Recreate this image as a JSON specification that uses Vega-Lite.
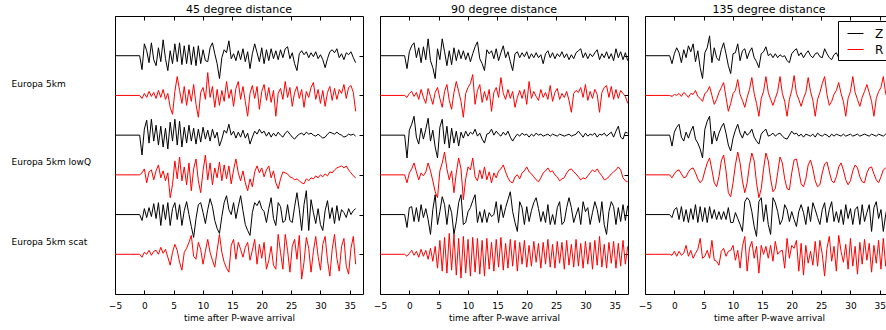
{
"$schema":"https://vega.github.io/schema/vega-lite/v6.json",
"padding":{"left":10,"top":3,"right":0,"bottom":0},
"config":{"font":"DejaVu Sans","view":{"stroke":"#000000","strokeWidth":1},"line":{"strokeWidth":1},"axis":{"labelFont":"DejaVu Sans","titleFont":"DejaVu Sans","tickColor":"#000000","labelColor":"#000000","titleColor":"#000000"},"title":{"font":"DejaVu Sans","fontSize":11,"fontWeight":"normal","color":"#000000","offset":1},"legend":{"orient":"top-right","offset":5,"symbolType":"stroke","symbolSize":256,"symbolStrokeWidth":1.2,"symbolOffset":5,"labelFontSize":12,"labelFont":"DejaVu Sans","labelColor":"#000000","strokeColor":"#000000","fillColor":"#ffffff","padding":4,"rowPadding":1,"labelOffset":11,"cornerRadius":0}},
"datasets":{
"p45":[
{"t":-5,"z1":0,"r1":0,"z2":0,"r2":0,"z3":0,"r3":0},
{"t":-0.8,"z1":0,"r1":0,"z2":0,"r2":0,"z3":0,"r3":0},
{"t":-0.4,"z1":-14,"r1":-3,"z2":-20,"r2":2,"z3":-6,"r3":-3},
{"t":0,"z1":12,"r1":2,"z2":6,"r2":6,"z3":6,"r3":2},
{"t":0.4,"z1":5,"r1":-2,"z2":15,"r2":-8,"z3":-3,"r3":0},
{"t":0.8,"z1":-7,"r1":4,"z2":-8,"r2":3,"z3":7,"r3":4},
{"t":1.2,"z1":13,"r1":-1,"z2":16,"r2":5,"z3":-2,"r3":-1},
{"t":1.6,"z1":-4,"r1":3,"z2":-6,"r2":-5,"z3":11,"r3":3},
{"t":2.0,"z1":-10,"r1":-3,"z2":10,"r2":4,"z3":-4,"r3":4},
{"t":2.4,"z1":8,"r1":5,"z2":-10,"r2":10,"z3":12,"r3":0},
{"t":2.8,"z1":-6,"r1":-2,"z2":9,"r2":-3,"z3":-11,"r3":7},
{"t":3.2,"z1":16,"r1":6,"z2":-12,"r2":4,"z3":10,"r3":1},
{"t":3.6,"z1":-3,"r1":-4,"z2":7,"r2":-6,"z3":-5,"r3":5},
{"t":4.0,"z1":-15,"r1":2,"z2":-14,"r2":2,"z3":12,"r3":-3},
{"t":4.4,"z1":5,"r1":-12,"z2":13,"r2":-23,"z3":-11,"r3":-11},
{"t":4.8,"z1":-8,"r1":-19,"z2":-6,"r2":-10,"z3":6,"r3":2},
{"t":5.2,"z1":12,"r1":4,"z2":16,"r2":14,"z3":12,"r3":10},
{"t":5.6,"z1":-6,"r1":19,"z2":-10,"r2":-4,"z3":-5,"r3":4},
{"t":6.0,"z1":13,"r1":5,"z2":14,"r2":18,"z3":10,"r3":-8},
{"t":6.4,"z1":-9,"r1":-8,"z2":-12,"r2":-6,"z3":-11,"r3":-16},
{"t":6.8,"z1":10,"r1":9,"z2":8,"r2":8,"z3":4,"r3":2},
{"t":7.2,"z1":-8,"r1":-10,"z2":-8,"r2":-10,"z3":13,"r3":6},
{"t":7.6,"z1":11,"r1":6,"z2":10,"r2":12,"z3":0,"r3":12},
{"t":8.0,"z1":-9,"r1":-6,"z2":-6,"r2":-16,"z3":-12,"r3":19},
{"t":8.4,"z1":9,"r1":11,"z2":7,"r2":6,"z3":-23,"r3":-2},
{"t":8.8,"z1":-10,"r1":-9,"z2":-9,"r2":16,"z3":-4,"r3":-5},
{"t":9.2,"z1":10,"r1":-22,"z2":6,"r2":-6,"z3":10,"r3":12},
{"t":9.6,"z1":-8,"r1":3,"z2":-7,"r2":-18,"z3":12,"r3":5},
{"t":10.0,"z1":6,"r1":8,"z2":8,"r2":4,"z3":2,"r3":-10},
{"t":10.4,"z1":-5,"r1":-4,"z2":-4,"r2":20,"z3":-9,"r3":3},
{"t":10.8,"z1":-6,"r1":23,"z2":5,"r2":-5,"z3":5,"r3":15},
{"t":11.2,"z1":8,"r1":-2,"z2":-6,"r2":12,"z3":16,"r3":2},
{"t":11.6,"z1":13,"r1":9,"z2":6,"r2":-10,"z3":8,"r3":-6},
{"t":12.0,"z1":2,"r1":-12,"z2":-3,"r2":7,"z3":-6,"r3":-13},
{"t":12.4,"z1":-8,"r1":6,"z2":3,"r2":-3,"z3":-14,"r3":4},
{"t":12.8,"z1":-23,"r1":-10,"z2":-11,"r2":13,"z3":-19,"r3":20},
{"t":13.2,"z1":-2,"r1":5,"z2":-4,"r2":-6,"z3":-2,"r3":2},
{"t":13.6,"z1":6,"r1":-6,"z2":5,"r2":10,"z3":12,"r3":-8},
{"t":14.0,"z1":3,"r1":14,"z2":2,"r2":-4,"z3":19,"r3":-14},
{"t":14.4,"z1":15,"r1":-3,"z2":11,"r2":9,"z3":5,"r3":-18},
{"t":14.8,"z1":-3,"r1":6,"z2":0,"r2":-9,"z3":0,"r3":9},
{"t":15.2,"z1":2,"r1":-11,"z2":4,"r2":5,"z3":12,"r3":15},
{"t":15.6,"z1":-5,"r1":7,"z2":-3,"r2":16,"z3":-4,"r3":-5},
{"t":16.0,"z1":5,"r1":14,"z2":3,"r2":2,"z3":8,"r3":12},
{"t":16.4,"z1":-4,"r1":-4,"z2":-2,"r2":-6,"z3":19,"r3":5},
{"t":16.8,"z1":7,"r1":9,"z2":5,"r2":4,"z3":4,"r3":-3},
{"t":17.2,"z1":-6,"r1":-6,"z2":-3,"r2":-8,"z3":-10,"r3":7},
{"t":17.6,"z1":4,"r1":-21,"z2":2,"r2":-16,"z3":-16,"r3":12},
{"t":18.0,"z1":-13,"r1":2,"z2":-9,"r2":-4,"z3":-21,"r3":-6},
{"t":18.4,"z1":2,"r1":10,"z2":-2,"r2":-12,"z3":2,"r3":4},
{"t":18.8,"z1":12,"r1":-3,"z2":4,"r2":3,"z3":12,"r3":15},
{"t":19.2,"z1":3,"r1":9,"z2":1,"r2":9,"z3":9,"r3":-10},
{"t":19.6,"z1":-6,"r1":-14,"z2":6,"r2":2,"z3":14,"r3":10},
{"t":20.0,"z1":8,"r1":4,"z2":2,"r2":7,"z3":6,"r3":-4},
{"t":20.4,"z1":-8,"r1":11,"z2":4,"r2":-2,"z3":3,"r3":12},
{"t":20.8,"z1":6,"r1":-5,"z2":-1,"r2":5,"z3":-8,"r3":-15},
{"t":21.2,"z1":-5,"r1":8,"z2":3,"r2":9,"z3":6,"r3":-6},
{"t":21.6,"z1":7,"r1":-7,"z2":-2,"r2":-3,"z3":17,"r3":8},
{"t":22.0,"z1":-3,"r1":5,"z2":2,"r2":4,"z3":-4,"r3":-11},
{"t":22.4,"z1":5,"r1":-21,"z2":-1,"r2":-8,"z3":-11,"r3":-15},
{"t":22.8,"z1":-4,"r1":2,"z2":3,"r2":-14,"z3":12,"r3":20},
{"t":23.2,"z1":6,"r1":7,"z2":0,"r2":-4,"z3":8,"r3":2},
{"t":23.6,"z1":-2,"r1":-4,"z2":-2,"r2":3,"z3":-8,"r3":-15},
{"t":24.0,"z1":7,"r1":14,"z2":2,"r2":2,"z3":-6,"r3":20},
{"t":24.4,"z1":9,"r1":-2,"z2":4,"r2":1,"z3":10,"r3":4},
{"t":24.8,"z1":-3,"r1":8,"z2":1,"r2":-2,"z3":-6,"r3":-18},
{"t":25.2,"z1":3,"r1":-11,"z2":-2,"r2":-3,"z3":-8,"r3":8},
{"t":25.6,"z1":-8,"r1":3,"z2":-4,"r2":-5,"z3":8,"r3":15},
{"t":26.0,"z1":-15,"r1":9,"z2":-1,"r2":-4,"z3":22,"r3":-5},
{"t":26.4,"z1":2,"r1":-3,"z2":1,"r2":-6,"z3":5,"r3":19},
{"t":26.8,"z1":5,"r1":6,"z2":2,"r2":-8,"z3":-16,"r3":-25},
{"t":27.2,"z1":1,"r1":-12,"z2":0,"r2":-9,"z3":10,"r3":-8},
{"t":27.6,"z1":4,"r1":4,"z2":3,"r2":-4,"z3":24,"r3":17},
{"t":28.0,"z1":-2,"r1":-2,"z2":1,"r2":-6,"z3":-16,"r3":6},
{"t":28.4,"z1":3,"r1":8,"z2":2,"r2":-3,"z3":15,"r3":-18},
{"t":28.8,"z1":-1,"r1":13,"z2":0,"r2":-4,"z3":2,"r3":3},
{"t":29.2,"z1":4,"r1":-4,"z2":-1,"r2":-1,"z3":-9,"r3":18},
{"t":29.6,"z1":-3,"r1":6,"z2":1,"r2":-3,"z3":6,"r3":-2},
{"t":30.0,"z1":1,"r1":-8,"z2":-1,"r2":0,"z3":-10,"r3":-16},
{"t":30.4,"z1":-4,"r1":5,"z2":-3,"r2":-2,"z3":-16,"r3":10},
{"t":30.8,"z1":-12,"r1":-11,"z2":-2,"r2":1,"z3":4,"r3":18},
{"t":31.2,"z1":-3,"r1":3,"z2":1,"r2":-1,"z3":14,"r3":-6},
{"t":31.6,"z1":4,"r1":9,"z2":3,"r2":3,"z3":-4,"r3":-22},
{"t":32.0,"z1":6,"r1":-5,"z2":2,"r2":2,"z3":7,"r3":5},
{"t":32.4,"z1":3,"r1":7,"z2":1,"r2":5,"z3":-9,"r3":20},
{"t":32.8,"z1":7,"r1":-4,"z2":3,"r2":7,"z3":9,"r3":-4},
{"t":33.2,"z1":-2,"r1":6,"z2":1,"r2":8,"z3":-6,"r3":-17},
{"t":33.6,"z1":2,"r1":2,"z2":0,"r2":9,"z3":5,"r3":8},
{"t":34.0,"z1":-4,"r1":11,"z2":-2,"r2":7,"z3":2,"r3":16},
{"t":34.4,"z1":3,"r1":-3,"z2":-1,"r2":9,"z3":-3,"r3":-12},
{"t":34.8,"z1":1,"r1":8,"z2":1,"r2":5,"z3":6,"r3":-20},
{"t":35.2,"z1":4,"r1":10,"z2":0,"r2":2,"z3":0,"r3":6},
{"t":35.6,"z1":-2,"r1":3,"z2":1,"r2":-1,"z3":4,"r3":18},
{"t":36.0,"z1":-7,"r1":-16,"z2":-1,"r2":-3,"z3":6,"r3":-10}
],
"p90":[
{"t":-5,"z1":0,"r1":0,"z2":0,"r2":0,"z3":0,"r3":0},
{"t":-0.8,"z1":0,"r1":0,"z2":0,"r2":0,"z3":0,"r3":0},
{"t":-0.4,"z1":-13,"r1":-2,"z2":-23,"r2":-8,"z3":-13,"r3":-2},
{"t":0,"z1":4,"r1":2,"z2":5,"r2":2,"z3":7,"r3":1},
{"t":0.4,"z1":10,"r1":4,"z2":11,"r2":6,"z3":8,"r3":4},
{"t":0.8,"z1":13,"r1":-1,"z2":19,"r2":12,"z3":-7,"r3":-1},
{"t":1.2,"z1":-2,"r1":3,"z2":-2,"r2":3,"z3":7,"r3":3},
{"t":1.6,"z1":8,"r1":-4,"z2":-9,"r2":-5,"z3":-7,"r3":-3},
{"t":2.0,"z1":-7,"r1":6,"z2":7,"r2":2,"z3":10,"r3":5},
{"t":2.4,"z1":9,"r1":-2,"z2":-4,"r2":-1,"z3":-3,"r3":-2},
{"t":2.8,"z1":-4,"r1":-8,"z2":6,"r2":3,"z3":6,"r3":4},
{"t":3.2,"z1":17,"r1":7,"z2":17,"r2":12,"z3":-5,"r3":-5},
{"t":3.6,"z1":-5,"r1":-1,"z2":-6,"r2":4,"z3":-20,"r3":6},
{"t":4.0,"z1":-12,"r1":-9,"z2":5,"r2":-6,"z3":5,"r3":-7},
{"t":4.4,"z1":-23,"r1":3,"z2":-12,"r2":-17,"z3":20,"r3":8},
{"t":4.8,"z1":7,"r1":8,"z2":-23,"r2":-23,"z3":-10,"r3":-14},
{"t":5.2,"z1":-4,"r1":-3,"z2":8,"r2":4,"z3":3,"r3":14},
{"t":5.6,"z1":17,"r1":-12,"z2":16,"r2":12,"z3":18,"r3":-17},
{"t":6.0,"z1":4,"r1":4,"z2":-9,"r2":23,"z3":10,"r3":17},
{"t":6.4,"z1":-10,"r1":11,"z2":9,"r2":6,"z3":-10,"r3":-19},
{"t":6.8,"z1":5,"r1":-5,"z2":-13,"r2":-5,"z3":10,"r3":21},
{"t":7.2,"z1":-9,"r1":-14,"z2":7,"r2":4,"z3":2,"r3":-16},
{"t":7.6,"z1":8,"r1":3,"z2":-8,"r2":-18,"z3":-20,"r3":20},
{"t":8.0,"z1":-5,"r1":14,"z2":4,"r2":2,"z3":-7,"r3":-21},
{"t":8.4,"z1":6,"r1":4,"z2":-11,"r2":17,"z3":12,"r3":16},
{"t":8.8,"z1":-3,"r1":-6,"z2":3,"r2":6,"z3":20,"r3":-24},
{"t":9.2,"z1":5,"r1":-22,"z2":-3,"r2":-25,"z3":-10,"r3":18},
{"t":9.6,"z1":-4,"r1":2,"z2":4,"r2":-4,"z3":-8,"r3":-19},
{"t":10.0,"z1":3,"r1":8,"z2":-1,"r2":8,"z3":3,"r3":15},
{"t":10.4,"z1":-6,"r1":12,"z2":3,"r2":5,"z3":7,"r3":-22},
{"t":10.8,"z1":2,"r1":21,"z2":1,"r2":17,"z3":14,"r3":17},
{"t":11.2,"z1":9,"r1":-9,"z2":6,"r2":-2,"z3":20,"r3":-18},
{"t":11.6,"z1":14,"r1":5,"z2":-1,"r2":-6,"z3":-8,"r3":16},
{"t":12.0,"z1":-3,"r1":11,"z2":2,"r2":5,"z3":3,"r3":-20},
{"t":12.4,"z1":-8,"r1":-7,"z2":-4,"r2":-4,"z3":-8,"r3":14},
{"t":12.8,"z1":-15,"r1":4,"z2":-8,"r2":8,"z3":5,"r3":-22},
{"t":13.2,"z1":6,"r1":-5,"z2":1,"r2":-5,"z3":-8,"r3":16},
{"t":13.6,"z1":2,"r1":6,"z2":2,"r2":3,"z3":2,"r3":-15},
{"t":14.0,"z1":5,"r1":-16,"z2":6,"r2":-8,"z3":-2,"r3":12},
{"t":14.4,"z1":-3,"r1":3,"z2":0,"r2":2,"z3":0,"r3":-17},
{"t":14.8,"z1":7,"r1":8,"z2":4,"r2":-3,"z3":13,"r3":15},
{"t":15.2,"z1":-5,"r1":-2,"z2":1,"r2":4,"z3":-8,"r3":-13},
{"t":15.6,"z1":3,"r1":18,"z2":-1,"r2":6,"z3":10,"r3":17},
{"t":16.0,"z1":10,"r1":2,"z2":3,"r2":10,"z3":-3,"r3":-16},
{"t":16.4,"z1":-2,"r1":-4,"z2":0,"r2":3,"z3":7,"r3":11},
{"t":16.8,"z1":4,"r1":6,"z2":4,"r2":-3,"z3":15,"r3":-14},
{"t":17.2,"z1":-6,"r1":-3,"z2":-2,"r2":-7,"z3":23,"r3":15},
{"t":17.6,"z1":-15,"r1":4,"z2":-6,"r2":-8,"z3":3,"r3":-12},
{"t":18.0,"z1":2,"r1":-12,"z2":-2,"r2":-2,"z3":-8,"r3":14},
{"t":18.4,"z1":4,"r1":-2,"z2":1,"r2":0,"z3":-17,"r3":-17},
{"t":18.8,"z1":-2,"r1":5,"z2":-1,"r2":-4,"z3":13,"r3":12},
{"t":19.2,"z1":3,"r1":-3,"z2":2,"r2":2,"z3":7,"r3":-10},
{"t":19.6,"z1":-1,"r1":6,"z2":0,"r2":4,"z3":-10,"r3":14},
{"t":20.0,"z1":4,"r1":-9,"z2":1,"r2":8,"z3":8,"r3":-13},
{"t":20.4,"z1":-3,"r1":14,"z2":-2,"r2":3,"z3":-7,"r3":9},
{"t":20.8,"z1":2,"r1":-3,"z2":1,"r2":1,"z3":4,"r3":-12},
{"t":21.2,"z1":-2,"r1":4,"z2":-1,"r2":-2,"z3":12,"r3":13},
{"t":21.6,"z1":3,"r1":-1,"z2":2,"r2":-5,"z3":17,"r3":-8},
{"t":22.0,"z1":-2,"r1":-5,"z2":0,"r2":-7,"z3":6,"r3":11},
{"t":22.4,"z1":1,"r1":6,"z2":1,"r2":-3,"z3":-7,"r3":-14},
{"t":22.8,"z1":-8,"r1":-2,"z2":-1,"r2":2,"z3":3,"r3":12},
{"t":23.2,"z1":2,"r1":3,"z2":0,"r2":4,"z3":-8,"r3":-10},
{"t":23.6,"z1":5,"r1":-4,"z2":1,"r2":7,"z3":10,"r3":15},
{"t":24.0,"z1":-2,"r1":10,"z2":-1,"r2":3,"z3":-10,"r3":-13},
{"t":24.4,"z1":3,"r1":-6,"z2":1,"r2":4,"z3":0,"r3":10},
{"t":24.8,"z1":-3,"r1":3,"z2":0,"r2":0,"z3":-10,"r3":-14},
{"t":25.2,"z1":2,"r1":7,"z2":-1,"r2":-2,"z3":7,"r3":13},
{"t":25.6,"z1":-1,"r1":-4,"z2":1,"r2":-6,"z3":13,"r3":-9},
{"t":26.0,"z1":4,"r1":2,"z2":0,"r2":-4,"z3":-10,"r3":12},
{"t":26.4,"z1":-2,"r1":-2,"z2":-1,"r2":-3,"z3":-7,"r3":-15},
{"t":26.8,"z1":2,"r1":4,"z2":0,"r2":2,"z3":7,"r3":14},
{"t":27.2,"z1":-4,"r1":-5,"z2":1,"r2":5,"z3":17,"r3":-11},
{"t":27.6,"z1":1,"r1":-17,"z2":-1,"r2":6,"z3":7,"r3":10},
{"t":28.0,"z1":-3,"r1":2,"z2":0,"r2":3,"z3":-8,"r3":-13},
{"t":28.4,"z1":3,"r1":5,"z2":1,"r2":1,"z3":0,"r3":15},
{"t":28.8,"z1":5,"r1":3,"z2":4,"r2":-2,"z3":7,"r3":-12},
{"t":29.2,"z1":7,"r1":8,"z2":1,"r2":-5,"z3":-10,"r3":11},
{"t":29.6,"z1":-2,"r1":-2,"z2":-2,"r2":-3,"z3":13,"r3":-14},
{"t":30.0,"z1":3,"r1":11,"z2":2,"r2":-4,"z3":3,"r3":13},
{"t":30.4,"z1":-3,"r1":-5,"z2":-1,"r2":-1,"z3":7,"r3":-10},
{"t":30.8,"z1":2,"r1":4,"z2":1,"r2":2,"z3":-10,"r3":12},
{"t":31.2,"z1":-1,"r1":-3,"z2":0,"r2":5,"z3":2,"r3":-15},
{"t":31.6,"z1":3,"r1":6,"z2":2,"r2":3,"z3":13,"r3":14},
{"t":32.0,"z1":6,"r1":1,"z2":-2,"r2":6,"z3":5,"r3":-11},
{"t":32.4,"z1":-4,"r1":-17,"z2":1,"r2":2,"z3":-8,"r3":18},
{"t":32.8,"z1":2,"r1":3,"z2":0,"r2":-1,"z3":13,"r3":-13},
{"t":33.2,"z1":-2,"r1":8,"z2":2,"r2":-5,"z3":-10,"r3":10},
{"t":33.6,"z1":4,"r1":10,"z2":-1,"r2":-4,"z3":-20,"r3":-14},
{"t":34.0,"z1":-3,"r1":-2,"z2":1,"r2":-2,"z3":3,"r3":12},
{"t":34.4,"z1":2,"r1":9,"z2":3,"r2":1,"z3":13,"r3":-9},
{"t":34.8,"z1":-5,"r1":-4,"z2":-2,"r2":3,"z3":8,"r3":13},
{"t":35.2,"z1":7,"r1":6,"z2":4,"r2":5,"z3":-10,"r3":-14},
{"t":35.6,"z1":-2,"r1":-3,"z2":9,"r2":8,"z3":7,"r3":11},
{"t":36.0,"z1":4,"r1":5,"z2":-2,"r2":5,"z3":-7,"r3":-12},
{"t":36.4,"z1":-4,"r1":2,"z2":-4,"r2":-3,"z3":10,"r3":14},
{"t":36.8,"z1":3,"r1":-1,"z2":3,"r2":-6,"z3":-6,"r3":-10},
{"t":37.2,"z1":-5,"r1":-8,"z2":2,"r2":-7,"z3":9,"r3":8}
],
"p135":[
{"t":-5,"z1":0,"r1":0,"z2":0,"r2":0,"z3":0,"r3":0},
{"t":-0.8,"z1":0,"r1":0,"z2":0,"r2":0,"z3":0,"r3":0},
{"t":-0.4,"z1":-8,"r1":-1,"z2":-11,"r2":-3,"z3":-3,"r3":-1},
{"t":0,"z1":2,"r1":1,"z2":3,"r2":1,"z3":5,"r3":3},
{"t":0.4,"z1":8,"r1":0,"z2":8,"r2":4,"z3":7,"r3":-2},
{"t":0.8,"z1":3,"r1":2,"z2":11,"r2":5,"z3":-5,"r3":3},
{"t":1.2,"z1":-7,"r1":-1,"z2":-2,"r2":1,"z3":8,"r3":-1},
{"t":1.6,"z1":6,"r1":3,"z2":-6,"r2":-3,"z3":-7,"r3":1},
{"t":2.0,"z1":-2,"r1":1,"z2":3,"r2":-2,"z3":5,"r3":9},
{"t":2.4,"z1":10,"r1":-2,"z2":-3,"r2":3,"z3":-8,"r3":-2},
{"t":2.8,"z1":4,"r1":2,"z2":4,"r2":6,"z3":6,"r3":4},
{"t":3.2,"z1":12,"r1":1,"z2":9,"r2":7,"z3":-5,"r3":-4},
{"t":3.6,"z1":-6,"r1":5,"z2":-4,"r2":2,"z3":10,"r3":1},
{"t":4.0,"z1":5,"r1":-1,"z2":-8,"r2":-4,"z3":-8,"r3":5},
{"t":4.4,"z1":-12,"r1":-3,"z2":-14,"r2":-8,"z3":8,"r3":16},
{"t":4.8,"z1":-23,"r1":-6,"z2":-23,"r2":-5,"z3":-7,"r3":-4},
{"t":5.2,"z1":3,"r1":2,"z2":6,"r2":4,"z3":7,"r3":-2},
{"t":5.6,"z1":8,"r1":4,"z2":14,"r2":12,"z3":-8,"r3":4},
{"t":6.0,"z1":20,"r1":9,"z2":19,"r2":17,"z3":8,"r3":-4},
{"t":6.4,"z1":-7,"r1":0,"z2":-9,"r2":5,"z3":-4,"r3":14},
{"t":6.8,"z1":8,"r1":-9,"z2":4,"r2":-8,"z3":5,"r3":-6},
{"t":7.2,"z1":-2,"r1":-4,"z2":-6,"r2":-12,"z3":-5,"r3":-7},
{"t":7.6,"z1":-5,"r1":3,"z2":2,"r2":-2,"z3":3,"r3":-11},
{"t":8.0,"z1":6,"r1":8,"z2":8,"r2":14,"z3":-5,"r3":3},
{"t":8.4,"z1":13,"r1":13,"z2":12,"r2":20,"z3":3,"r3":6},
{"t":8.8,"z1":2,"r1":-2,"z2":2,"r2":4,"z3":-5,"r3":-2},
{"t":9.2,"z1":-10,"r1":-16,"z2":-10,"r2":-18,"z3":7,"r3":3},
{"t":9.6,"z1":-18,"r1":-8,"z2":-16,"r2":-22,"z3":-8,"r3":4},
{"t":10.0,"z1":2,"r1":2,"z2":-3,"r2":-8,"z3":-8,"r3":9},
{"t":10.4,"z1":3,"r1":5,"z2":5,"r2":10,"z3":2,"r3":-6},
{"t":10.8,"z1":12,"r1":16,"z2":11,"r2":23,"z3":-4,"r3":4},
{"t":11.2,"z1":-5,"r1":1,"z2":2,"r2":12,"z3":-10,"r3":-14},
{"t":11.6,"z1":5,"r1":-5,"z2":-3,"r2":-6,"z3":-17,"r3":8},
{"t":12.0,"z1":7,"r1":-12,"z2":4,"r2":-18,"z3":13,"r3":18},
{"t":12.4,"z1":-3,"r1":-2,"z2":0,"r2":-8,"z3":17,"r3":-17},
{"t":12.8,"z1":4,"r1":6,"z2":2,"r2":10,"z3":14,"r3":6},
{"t":13.2,"z1":8,"r1":18,"z2":6,"r2":22,"z3":3,"r3":13},
{"t":13.6,"z1":-2,"r1":2,"z2":-2,"r2":14,"z3":-12,"r3":-4},
{"t":14.0,"z1":-6,"r1":-8,"z2":-6,"r2":-8,"z3":-22,"r3":8},
{"t":14.4,"z1":-12,"r1":-21,"z2":-9,"r2":-23,"z3":13,"r3":-19},
{"t":14.8,"z1":2,"r1":-3,"z2":1,"r2":-14,"z3":17,"r3":9},
{"t":15.2,"z1":4,"r1":4,"z2":4,"r2":6,"z3":-7,"r3":0},
{"t":15.6,"z1":9,"r1":19,"z2":6,"r2":22,"z3":10,"r3":8},
{"t":16.0,"z1":0,"r1":3,"z2":-1,"r2":14,"z3":-10,"r3":-4},
{"t":16.4,"z1":2,"r1":-4,"z2":0,"r2":-4,"z3":-20,"r3":9},
{"t":16.8,"z1":-2,"r1":-10,"z2":2,"r2":-17,"z3":17,"r3":-7},
{"t":17.2,"z1":2,"r1":-3,"z2":-1,"r2":-14,"z3":12,"r3":13},
{"t":17.6,"z1":-2,"r1":4,"z2":1,"r2":2,"z3":3,"r3":0},
{"t":18.0,"z1":1,"r1":19,"z2":2,"r2":18,"z3":-10,"r3":3},
{"t":18.4,"z1":-1,"r1":2,"z2":-1,"r2":12,"z3":-5,"r3":4},
{"t":18.8,"z1":0,"r1":-6,"z2":-3,"r2":-4,"z3":10,"r3":-14},
{"t":19.2,"z1":-5,"r1":-21,"z2":-4,"r2":-14,"z3":5,"r3":16},
{"t":19.6,"z1":-7,"r1":-4,"z2":0,"r2":-15,"z3":-7,"r3":-4},
{"t":20.0,"z1":2,"r1":5,"z2":4,"r2":2,"z3":3,"r3":9},
{"t":20.4,"z1":5,"r1":20,"z2":1,"r2":15,"z3":-5,"r3":6},
{"t":20.8,"z1":7,"r1":2,"z2":2,"r2":16,"z3":-12,"r3":14},
{"t":21.2,"z1":0,"r1":-4,"z2":-1,"r2":4,"z3":3,"r3":-17},
{"t":21.6,"z1":3,"r1":-11,"z2":1,"r2":-9,"z3":10,"r3":11},
{"t":22.0,"z1":-2,"r1":-3,"z2":-2,"r2":-12,"z3":2,"r3":-21},
{"t":22.4,"z1":2,"r1":3,"z2":1,"r2":-4,"z3":-10,"r3":9},
{"t":22.8,"z1":5,"r1":18,"z2":0,"r2":10,"z3":8,"r3":-9},
{"t":23.2,"z1":0,"r1":4,"z2":-1,"r2":15,"z3":-7,"r3":3},
{"t":23.6,"z1":-2,"r1":-5,"z2":1,"r2":6,"z3":12,"r3":-11},
{"t":24.0,"z1":2,"r1":-21,"z2":-2,"r2":-6,"z3":5,"r3":13},
{"t":24.4,"z1":3,"r1":-4,"z2":2,"r2":-12,"z3":-3,"r3":-12},
{"t":24.8,"z1":-1,"r1":3,"z2":0,"r2":-10,"z3":-10,"r3":14},
{"t":25.2,"z1":-2,"r1":12,"z2":-1,"r2":2,"z3":5,"r3":0},
{"t":25.6,"z1":7,"r1":19,"z2":1,"r2":11,"z3":12,"r3":-22},
{"t":26.0,"z1":2,"r1":1,"z2":0,"r2":13,"z3":-8,"r3":6},
{"t":26.4,"z1":-2,"r1":-10,"z2":-2,"r2":3,"z3":5,"r3":18},
{"t":26.8,"z1":-4,"r1":-6,"z2":1,"r2":-6,"z3":13,"r3":-7},
{"t":27.2,"z1":1,"r1":1,"z2":-1,"r2":-8,"z3":-7,"r3":8},
{"t":27.6,"z1":3,"r1":5,"z2":1,"r2":-2,"z3":3,"r3":-17},
{"t":28.0,"z1":-2,"r1":13,"z2":0,"r2":8,"z3":-8,"r3":19},
{"t":28.4,"z1":2,"r1":2,"z2":-1,"r2":12,"z3":5,"r3":3},
{"t":28.8,"z1":-1,"r1":-6,"z2":1,"r2":5,"z3":-10,"r3":-8},
{"t":29.2,"z1":3,"r1":-21,"z2":-1,"r2":-5,"z3":10,"r3":10},
{"t":29.6,"z1":-3,"r1":-3,"z2":0,"r2":-10,"z3":-4,"r3":-15},
{"t":30.0,"z1":1,"r1":4,"z2":1,"r2":-6,"z3":6,"r3":16},
{"t":30.4,"z1":2,"r1":19,"z2":-1,"r2":4,"z3":-10,"r3":-12},
{"t":30.8,"z1":-2,"r1":3,"z2":0,"r2":10,"z3":5,"r3":8},
{"t":31.2,"z1":3,"r1":-4,"z2":1,"r2":7,"z3":8,"r3":-20},
{"t":31.6,"z1":-1,"r1":-11,"z2":-1,"r2":-2,"z3":-10,"r3":12},
{"t":32.0,"z1":2,"r1":-2,"z2":0,"r2":-7,"z3":10,"r3":-10},
{"t":32.4,"z1":-3,"r1":4,"z2":1,"r2":-8,"z3":-7,"r3":15},
{"t":32.8,"z1":1,"r1":11,"z2":0,"r2":2,"z3":2,"r3":-6},
{"t":33.2,"z1":2,"r1":3,"z2":-1,"r2":7,"z3":10,"r3":11},
{"t":33.6,"z1":-2,"r1":-6,"z2":1,"r2":8,"z3":-17,"r3":-18},
{"t":34.0,"z1":1,"r1":-21,"z2":0,"r2":1,"z3":7,"r3":9},
{"t":34.4,"z1":3,"r1":-3,"z2":-1,"r2":-5,"z3":13,"r3":-9},
{"t":34.8,"z1":-1,"r1":4,"z2":1,"r2":-8,"z3":-4,"r3":14},
{"t":35.2,"z1":2,"r1":8,"z2":0,"r2":-2,"z3":5,"r3":-15},
{"t":35.6,"z1":-2,"r1":19,"z2":-1,"r2":5,"z3":-17,"r3":16},
{"t":36.0,"z1":1,"r1":2,"z2":1,"r2":7,"z3":0,"r3":-12},
{"t":36.4,"z1":2,"r1":-5,"z2":0,"r2":4,"z3":10,"r3":7},
{"t":36.8,"z1":-1,"r1":-2,"z2":1,"r2":-2,"z3":-5,"r3":-10},
{"t":37.2,"z1":1,"r1":1,"z2":1,"r2":-6,"z3":6,"r3":9}
]
},
"hconcat":[
{"width":248,"height":278,"title":"45 degree distance","data":{"name":"p45"},
"layer":[
{"mark":{"type":"line","clip":true},"encoding":{
"x":{"field":"t","type":"quantitative","scale":{"domain":[-5,37.25],"nice":false,"zero":false},"axis":{"orient":"bottom","values":[-5,0,5,10,15,20,25,30,35],"title":"time after P-wave arrival","ticks":false,"domain":false,"grid":false,"labelFlush":false,"labelPadding":7,"labelFontSize":9,"titleFontSize":9,"titleFontWeight":"normal","titlePadding":3}},
"y":{"field":"z1","type":"quantitative","scale":{"domain":[-240,40],"nice":false,"zero":false},"axis":{"orient":"left","values":[-28,-107,-187],"labelExpr":"datum.value==-28?'Europa 5km':(datum.value==-107?'Europa 5km lowQ':'Europa 5km scat')","ticks":false,"tickSize":0,"domain":false,"grid":false,"labelAlign":"left","labelBaseline":"middle","labelPadding":104,"labelFontSize":9,"labelOverlap":false,"labelFlush":false,"labelBound":false,"title":null}},
"color":{"datum":"Z","type":"nominal","scale":{"domain":["Z","R"],"range":["#000000","#ff0000"]},"legend":null}}},
{"mark":{"type":"line","clip":true},"encoding":{
"x":{"field":"t","type":"quantitative","scale":{"domain":[-5,37.25],"nice":false,"zero":false},"axis":{"orient":"top","values":[-5,0,5,10,15,20,25,30,35],"labels":false,"tickSize":-4,"domain":false,"grid":false,"title":null}},
"y":{"field":"r1","type":"quantitative","scale":{"domain":[-200,80],"nice":false,"zero":false},"axis":{"orient":"right","values":[40,0,-40,-80,-120,-160],"labels":false,"tickSize":-4,"domain":false,"grid":false,"title":null}},
"color":{"datum":"R","type":"nominal","scale":{"domain":["Z","R"],"range":["#000000","#ff0000"]},"legend":null}}},
{"mark":{"type":"line","clip":true},"encoding":{
"x":{"field":"t","type":"quantitative","scale":{"domain":[-5,37.25],"nice":false,"zero":false},"axis":{"orient":"bottom","values":[-5,0,5,10,15,20,25,30,35],"labels":false,"tickSize":-4,"domain":false,"grid":false,"title":null}},
"y":{"field":"z2","type":"quantitative","scale":{"domain":[-160,120],"nice":false,"zero":false},"axis":null},
"color":{"datum":"Z","type":"nominal","scale":{"domain":["Z","R"],"range":["#000000","#ff0000"]},"legend":null}}},
{"mark":{"type":"line","clip":true},"encoding":{
"x":{"field":"t","type":"quantitative","scale":{"domain":[-5,37.25],"nice":false,"zero":false},"axis":null},
"y":{"field":"r2","type":"quantitative","scale":{"domain":[-120,160],"nice":false,"zero":false},"axis":null},
"color":{"datum":"R","type":"nominal","scale":{"domain":["Z","R"],"range":["#000000","#ff0000"]},"legend":null}}},
{"mark":{"type":"line","clip":true},"encoding":{
"x":{"field":"t","type":"quantitative","scale":{"domain":[-5,37.25],"nice":false,"zero":false},"axis":null},
"y":{"field":"z3","type":"quantitative","scale":{"domain":[-80,200],"nice":false,"zero":false},"axis":null},
"color":{"datum":"Z","type":"nominal","scale":{"domain":["Z","R"],"range":["#000000","#ff0000"]},"legend":null}}},
{"mark":{"type":"line","clip":true},"encoding":{
"x":{"field":"t","type":"quantitative","scale":{"domain":[-5,37.25],"nice":false,"zero":false},"axis":null},
"y":{"field":"r3","type":"quantitative","scale":{"domain":[-40,240],"nice":false,"zero":false},"axis":null},
"color":{"datum":"R","type":"nominal","scale":{"domain":["Z","R"],"range":["#000000","#ff0000"]},"legend":null}}}
],
"resolve":{"scale":{"y":"independent"},"axis":{"x":"independent","y":"independent"}}},
{"width":248,"height":278,"title":"90 degree distance","data":{"name":"p90"},
"layer":[
{"mark":{"type":"line","clip":true},"encoding":{
"x":{"field":"t","type":"quantitative","scale":{"domain":[-5,37.25],"nice":false,"zero":false},"axis":{"orient":"bottom","values":[-5,0,5,10,15,20,25,30,35],"title":"time after P-wave arrival","ticks":false,"domain":false,"grid":false,"labelFlush":false,"labelPadding":7,"labelFontSize":9,"titleFontSize":9,"titleFontWeight":"normal","titlePadding":3}},
"y":{"field":"z1","type":"quantitative","scale":{"domain":[-240,40],"nice":false,"zero":false},"axis":null},
"color":{"datum":"Z","type":"nominal","scale":{"domain":["Z","R"],"range":["#000000","#ff0000"]},"legend":null}}},
{"mark":{"type":"line","clip":true},"encoding":{
"x":{"field":"t","type":"quantitative","scale":{"domain":[-5,37.25],"nice":false,"zero":false},"axis":{"orient":"top","values":[-5,0,5,10,15,20,25,30,35],"labels":false,"tickSize":-4,"domain":false,"grid":false,"title":null}},
"y":{"field":"r1","type":"quantitative","scale":{"domain":[-200,80],"nice":false,"zero":false},"axis":{"orient":"right","values":[40,0,-40,-80,-120,-160],"labels":false,"tickSize":-4,"domain":false,"grid":false,"title":null}},
"color":{"datum":"R","type":"nominal","scale":{"domain":["Z","R"],"range":["#000000","#ff0000"]},"legend":null}}},
{"mark":{"type":"line","clip":true},"encoding":{
"x":{"field":"t","type":"quantitative","scale":{"domain":[-5,37.25],"nice":false,"zero":false},"axis":{"orient":"bottom","values":[-5,0,5,10,15,20,25,30,35],"labels":false,"tickSize":-4,"domain":false,"grid":false,"title":null}},
"y":{"field":"z2","type":"quantitative","scale":{"domain":[-160,120],"nice":false,"zero":false},"axis":null},
"color":{"datum":"Z","type":"nominal","scale":{"domain":["Z","R"],"range":["#000000","#ff0000"]},"legend":null}}},
{"mark":{"type":"line","clip":true},"encoding":{
"x":{"field":"t","type":"quantitative","scale":{"domain":[-5,37.25],"nice":false,"zero":false},"axis":null},
"y":{"field":"r2","type":"quantitative","scale":{"domain":[-120,160],"nice":false,"zero":false},"axis":null},
"color":{"datum":"R","type":"nominal","scale":{"domain":["Z","R"],"range":["#000000","#ff0000"]},"legend":null}}},
{"mark":{"type":"line","clip":true},"encoding":{
"x":{"field":"t","type":"quantitative","scale":{"domain":[-5,37.25],"nice":false,"zero":false},"axis":null},
"y":{"field":"z3","type":"quantitative","scale":{"domain":[-80,200],"nice":false,"zero":false},"axis":null},
"color":{"datum":"Z","type":"nominal","scale":{"domain":["Z","R"],"range":["#000000","#ff0000"]},"legend":null}}},
{"mark":{"type":"line","clip":true},"encoding":{
"x":{"field":"t","type":"quantitative","scale":{"domain":[-5,37.25],"nice":false,"zero":false},"axis":null},
"y":{"field":"r3","type":"quantitative","scale":{"domain":[-40,240],"nice":false,"zero":false},"axis":null},
"color":{"datum":"R","type":"nominal","scale":{"domain":["Z","R"],"range":["#000000","#ff0000"]},"legend":null}}}
],
"resolve":{"scale":{"y":"independent"},"axis":{"x":"independent","y":"independent"}}},
{"width":248,"height":278,"title":"135 degree distance","data":{"name":"p135"},
"layer":[
{"mark":{"type":"line","clip":true},"encoding":{
"x":{"field":"t","type":"quantitative","scale":{"domain":[-5,37.25],"nice":false,"zero":false},"axis":{"orient":"bottom","values":[-5,0,5,10,15,20,25,30,35],"title":"time after P-wave arrival","ticks":false,"domain":false,"grid":false,"labelFlush":false,"labelPadding":7,"labelFontSize":9,"titleFontSize":9,"titleFontWeight":"normal","titlePadding":3}},
"y":{"field":"z1","type":"quantitative","scale":{"domain":[-240,40],"nice":false,"zero":false},"axis":null},
"color":{"datum":"Z","type":"nominal","scale":{"domain":["Z","R"],"range":["#000000","#ff0000"]},"legend":{"title":null}}}},
{"mark":{"type":"line","clip":true},"encoding":{
"x":{"field":"t","type":"quantitative","scale":{"domain":[-5,37.25],"nice":false,"zero":false},"axis":{"orient":"top","values":[-5,0,5,10,15,20,25,30,35],"labels":false,"tickSize":-4,"domain":false,"grid":false,"title":null}},
"y":{"field":"r1","type":"quantitative","scale":{"domain":[-200,80],"nice":false,"zero":false},"axis":{"orient":"right","values":[40,0,-40,-80,-120,-160],"labels":false,"tickSize":-4,"domain":false,"grid":false,"title":null}},
"color":{"datum":"R","type":"nominal","scale":{"domain":["Z","R"],"range":["#000000","#ff0000"]},"legend":{"title":null}}}},
{"mark":{"type":"line","clip":true},"encoding":{
"x":{"field":"t","type":"quantitative","scale":{"domain":[-5,37.25],"nice":false,"zero":false},"axis":{"orient":"bottom","values":[-5,0,5,10,15,20,25,30,35],"labels":false,"tickSize":-4,"domain":false,"grid":false,"title":null}},
"y":{"field":"z2","type":"quantitative","scale":{"domain":[-160,120],"nice":false,"zero":false},"axis":null},
"color":{"datum":"Z","type":"nominal","scale":{"domain":["Z","R"],"range":["#000000","#ff0000"]},"legend":{"title":null}}}},
{"mark":{"type":"line","clip":true},"encoding":{
"x":{"field":"t","type":"quantitative","scale":{"domain":[-5,37.25],"nice":false,"zero":false},"axis":null},
"y":{"field":"r2","type":"quantitative","scale":{"domain":[-120,160],"nice":false,"zero":false},"axis":null},
"color":{"datum":"R","type":"nominal","scale":{"domain":["Z","R"],"range":["#000000","#ff0000"]},"legend":{"title":null}}}},
{"mark":{"type":"line","clip":true},"encoding":{
"x":{"field":"t","type":"quantitative","scale":{"domain":[-5,37.25],"nice":false,"zero":false},"axis":null},
"y":{"field":"z3","type":"quantitative","scale":{"domain":[-80,200],"nice":false,"zero":false},"axis":null},
"color":{"datum":"Z","type":"nominal","scale":{"domain":["Z","R"],"range":["#000000","#ff0000"]},"legend":{"title":null}}}},
{"mark":{"type":"line","clip":true},"encoding":{
"x":{"field":"t","type":"quantitative","scale":{"domain":[-5,37.25],"nice":false,"zero":false},"axis":null},
"y":{"field":"r3","type":"quantitative","scale":{"domain":[-40,240],"nice":false,"zero":false},"axis":null},
"color":{"datum":"R","type":"nominal","scale":{"domain":["Z","R"],"range":["#000000","#ff0000"]},"legend":{"title":null}}}}
],
"resolve":{"scale":{"y":"independent"},"axis":{"x":"independent","y":"independent"}}}
],
"spacing":17,
"bounds":"flush",
"resolve":{"scale":{"color":"independent"},"legend":{"color":"independent"}}
}
